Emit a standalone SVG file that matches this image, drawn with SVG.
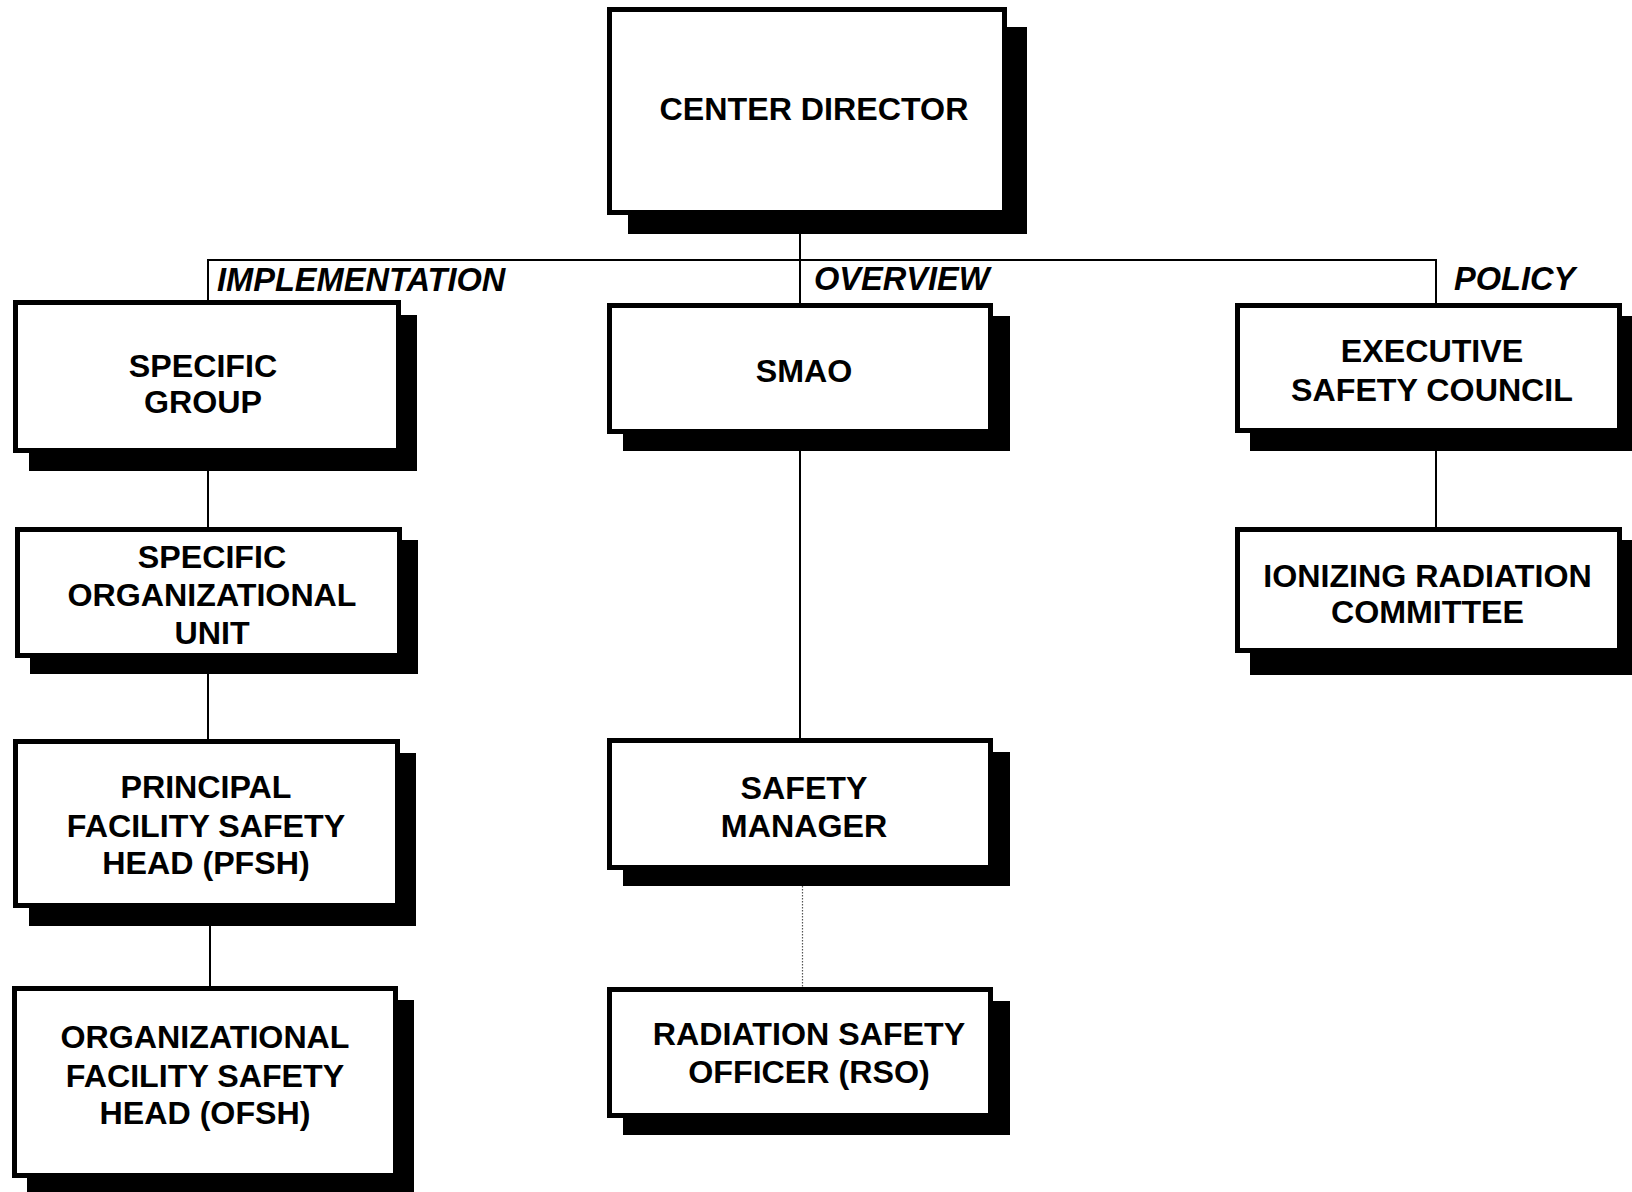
<svg xmlns="http://www.w3.org/2000/svg" width="1632" height="1192" viewBox="0 0 1632 1192">
<style>
.bg{fill:#fff}
.sh{fill:#000}
.bx{fill:#fff;stroke:#000;stroke-width:5}
.t{font-family:"Liberation Sans",Arial,sans-serif;font-weight:bold;font-size:32.2px;fill:#000;text-anchor:middle}
.lb{font-family:"Liberation Sans",Arial,sans-serif;font-weight:bold;font-style:italic;font-size:32.6px;fill:#000}
.ln{stroke:#000;stroke-width:2;fill:none}
.dt{stroke:#555;stroke-width:1.2;stroke-dasharray:1.5 1.5;fill:none}
</style>
<rect class="bg" x="0" y="0" width="1632" height="1192"/>
<g id="connectors">
<line class="ln" x1="800" y1="234" x2="800" y2="260"/>
<line class="ln" x1="207" y1="260" x2="1437" y2="260"/>
<line class="ln" x1="208" y1="260" x2="208" y2="302"/>
<line class="ln" x1="800" y1="260" x2="800" y2="305"/>
<line class="ln" x1="1436" y1="260" x2="1436" y2="305"/>
<line class="ln" x1="208" y1="470" x2="208" y2="528"/>
<line class="ln" x1="208" y1="673" x2="208" y2="741"/>
<line class="ln" x1="210" y1="925" x2="210" y2="988"/>
<line class="ln" x1="800" y1="450" x2="800" y2="740"/>
<line class="dt" x1="802.5" y1="886" x2="802.5" y2="988"/>
<line class="ln" x1="1436" y1="450" x2="1436" y2="529"/>
<text class="lb" x="217" y="290.5">IMPLEMENTATION</text>
<text class="lb" x="814" y="290">OVERVIEW</text>
<text class="lb" x="1454" y="290">POLICY</text>
</g>
<g id="center-director">
<rect class="sh" x="628" y="27" width="399" height="207"/>
<rect class="bx" x="609.5" y="9.5" width="395" height="203"/>
<text class="t" x="814" y="120">CENTER DIRECTOR</text>
</g>
<g id="specific-group">
<rect class="sh" x="29" y="315" width="388" height="156"/>
<rect class="bx" x="15.5" y="302.5" width="383" height="148"/>
<text class="t" x="203" y="376.7">SPECIFIC</text>
<text class="t" x="203" y="413.3">GROUP</text>
</g>
<g id="specific-organizational-unit">
<rect class="sh" x="30" y="540" width="388" height="134"/>
<rect class="bx" x="17.5" y="529.5" width="382" height="126"/>
<text class="t" x="212" y="568">SPECIFIC</text>
<text class="t" x="212" y="606">ORGANIZATIONAL</text>
<text class="t" x="212" y="643.5">UNIT</text>
</g>
<g id="pfsh">
<rect class="sh" x="29" y="753" width="387" height="173"/>
<rect class="bx" x="15.5" y="741.5" width="382" height="164"/>
<text class="t" x="206" y="798.3">PRINCIPAL</text>
<text class="t" x="206" y="836.7">FACILITY SAFETY</text>
<text class="t" x="206" y="874">HEAD (PFSH)</text>
</g>
<g id="ofsh">
<rect class="sh" x="27" y="1000" width="387" height="200"/>
<rect class="bx" x="14.5" y="988.5" width="381" height="187"/>
<text class="t" x="205" y="1048.3">ORGANIZATIONAL</text>
<text class="t" x="205" y="1087.3">FACILITY SAFETY</text>
<text class="t" x="205" y="1124">HEAD (OFSH)</text>
</g>
<g id="smao">
<rect class="sh" x="623" y="316" width="387" height="135"/>
<rect class="bx" x="609.5" y="305.5" width="381" height="126"/>
<text class="t" x="804" y="381.7">SMAO</text>
</g>
<g id="safety-manager">
<rect class="sh" x="623" y="752" width="387" height="134"/>
<rect class="bx" x="609.5" y="740.5" width="381" height="127"/>
<text class="t" x="804" y="799">SAFETY</text>
<text class="t" x="804" y="836.7">MANAGER</text>
</g>
<g id="rso">
<rect class="sh" x="623" y="1001" width="387" height="134"/>
<rect class="bx" x="609.5" y="989.5" width="381" height="126"/>
<text class="t" x="809" y="1045">RADIATION SAFETY</text>
<text class="t" x="809" y="1083.3">OFFICER (RSO)</text>
</g>
<g id="executive-safety-council">
<rect class="sh" x="1250" y="316" width="390" height="135"/>
<rect class="bx" x="1237.5" y="305.5" width="382" height="125"/>
<text class="t" x="1432" y="361.7">EXECUTIVE</text>
<text class="t" x="1432" y="400.7">SAFETY COUNCIL</text>
</g>
<g id="ionizing-radiation-committee">
<rect class="sh" x="1250" y="540" width="390" height="135"/>
<rect class="bx" x="1237.5" y="529.5" width="382" height="121"/>
<text class="t" x="1427.5" y="586.7">IONIZING RADIATION</text>
<text class="t" x="1427.5" y="623.3">COMMITTEE</text>
</g>
</svg>
